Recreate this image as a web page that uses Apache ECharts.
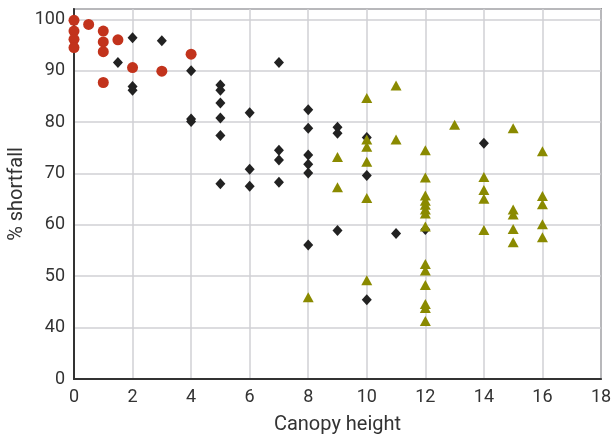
<!DOCTYPE html>
<html>
<head>
<meta charset="utf-8">
<script src="https://cdn.jsdelivr.net/npm/echarts@6/dist/echarts.min.js"></script>
<style>
html,body{margin:0;padding:0;background:#fff;}
#chart{width:615px;height:439px;}
</style>
</head>
<body>
<div id="chart"></div>
<script>
// Red circles
const redX = [0, 0, 0, 0, 0.5, 1, 1, 1, 1, 1.5, 2, 3, 4];
const redY = [99.8, 97.7, 96.1, 94.5, 99.0, 97.7, 95.6, 93.7, 87.7, 96.0, 90.6, 89.9, 93.2];

// Black diamonds
const blackX = [1.5, 2, 2, 2, 3, 4, 4, 4,
  5, 5, 5, 5, 5, 5,
  6, 6, 6,
  7, 7, 7, 7,
  8, 8, 8, 8, 8, 8,
  9, 9, 9,
  10, 10, 10,
  11, 12, 14];
const blackY = [91.6, 96.4, 86.9, 86.2, 95.8, 90.0, 80.6, 80.1,
  87.2, 86.2, 83.7, 80.8, 77.4, 68.0,
  81.8, 70.8, 67.5,
  91.6, 74.5, 72.6, 68.3,
  82.4, 78.8, 73.6, 71.8, 70.1, 56.1,
  79.0, 77.8, 58.9,
  77.0, 69.6, 45.4,
  58.3, 59.1, 75.9];

// Olive triangles
const greenX = [8,
  9, 9,
  10, 10, 10, 10, 10, 10,
  11, 11,
  12, 12, 12, 12, 12, 12, 12, 12, 12, 12, 12, 12, 12, 12,
  13,
  14, 14, 14, 14,
  15, 15, 15, 15, 15,
  16, 16, 16, 16, 16];
const greenY = [45.9,
  73.2, 67.3,
  84.7, 76.6, 75.2, 72.3, 65.2, 49.2,
  87.1, 76.6,
  74.5, 69.2, 65.7, 64.7, 63.9, 63.0, 62.2, 59.7, 52.4, 51.1, 48.3, 44.6, 43.8, 41.3,
  79.5,
  69.3, 66.8, 65.1, 59.0,
  78.8, 63.0, 62.0, 59.2, 56.6,
  74.3, 65.6, 64.0, 60.1, 57.6];

// Y axis: broken axis, bottom tick (30) is labelled "0"
const yTickValues = [30, 40, 50, 60, 70, 80, 90, 100];
const yTickLabels = ['0', '40', '50', '60', '70', '80', '90', '100'];

const xName = 'Canopy height';
const yName = '% shortfall';

function pairs(xs, ys) { return xs.map((x, i) => [x, ys[i]]); }

const FONT = 'Roboto';
const TXT = '#333333';

const chart = echarts.init(document.getElementById('chart'), null, {renderer: 'canvas'});
chart.setOption({
  animation: false,
  backgroundColor: '#ffffff',
  grid: {
    left: 74, right: 14, top: 9, bottom: 60,
    show: true, borderColor: '#444444', borderWidth: 1.5,
    containLabel: false, outerBoundsMode: 'none'
  },
  xAxis: {
    type: 'value', min: 0, max: 18, interval: 2,
    name: xName, nameLocation: 'middle', nameGap: 36, nameMoveOverlap: false,
    nameTextStyle: {fontFamily: FONT, fontSize: 20, color: TXT},
    axisLine: {show: true, onZero: false, lineStyle: {color: '#333333', width: 2}},
    axisTick: {show: false},
    axisLabel: {fontFamily: FONT, fontSize: 18, color: TXT, margin: 9},
    splitLine: {show: true, lineStyle: {color: '#d0d0d4', width: 1.5}}
  },
  yAxis: {
    type: 'value', min: 30, max: 102, interval: 10,
    name: yName, nameLocation: 'middle', nameGap: 47, nameMoveOverlap: false,
    nameTextStyle: {fontFamily: FONT, fontSize: 20, color: TXT},
    axisLine: {show: true, onZero: false, lineStyle: {color: '#333333', width: 2}},
    axisTick: {show: false},
    axisLabel: {
      fontFamily: FONT, fontSize: 18, color: TXT, margin: 9, showMaxLabel: false,
      formatter: function (v) {
        const i = yTickValues.indexOf(v);
        return i >= 0 ? yTickLabels[i] : '';
      }
    },
    splitLine: {show: true, lineStyle: {color: '#d0d0d4', width: 1.5}}
  },
  series: [
    {
      type: 'scatter', data: pairs(blackX, blackY),
      symbol: 'diamond', symbolSize: [10, 11],
      itemStyle: {color: '#222222', opacity: 1}, z: 3
    },
    {
      type: 'scatter', data: pairs(greenX, greenY),
      symbol: 'triangle', symbolSize: [11, 10],
      itemStyle: {color: '#8a8a00', opacity: 1}, z: 4
    },
    {
      type: 'scatter', data: pairs(redX, redY),
      symbol: 'circle', symbolSize: 11,
      itemStyle: {color: '#c2331c', opacity: 1}, z: 5
    }
  ]
});
</script>
</body>
</html>
